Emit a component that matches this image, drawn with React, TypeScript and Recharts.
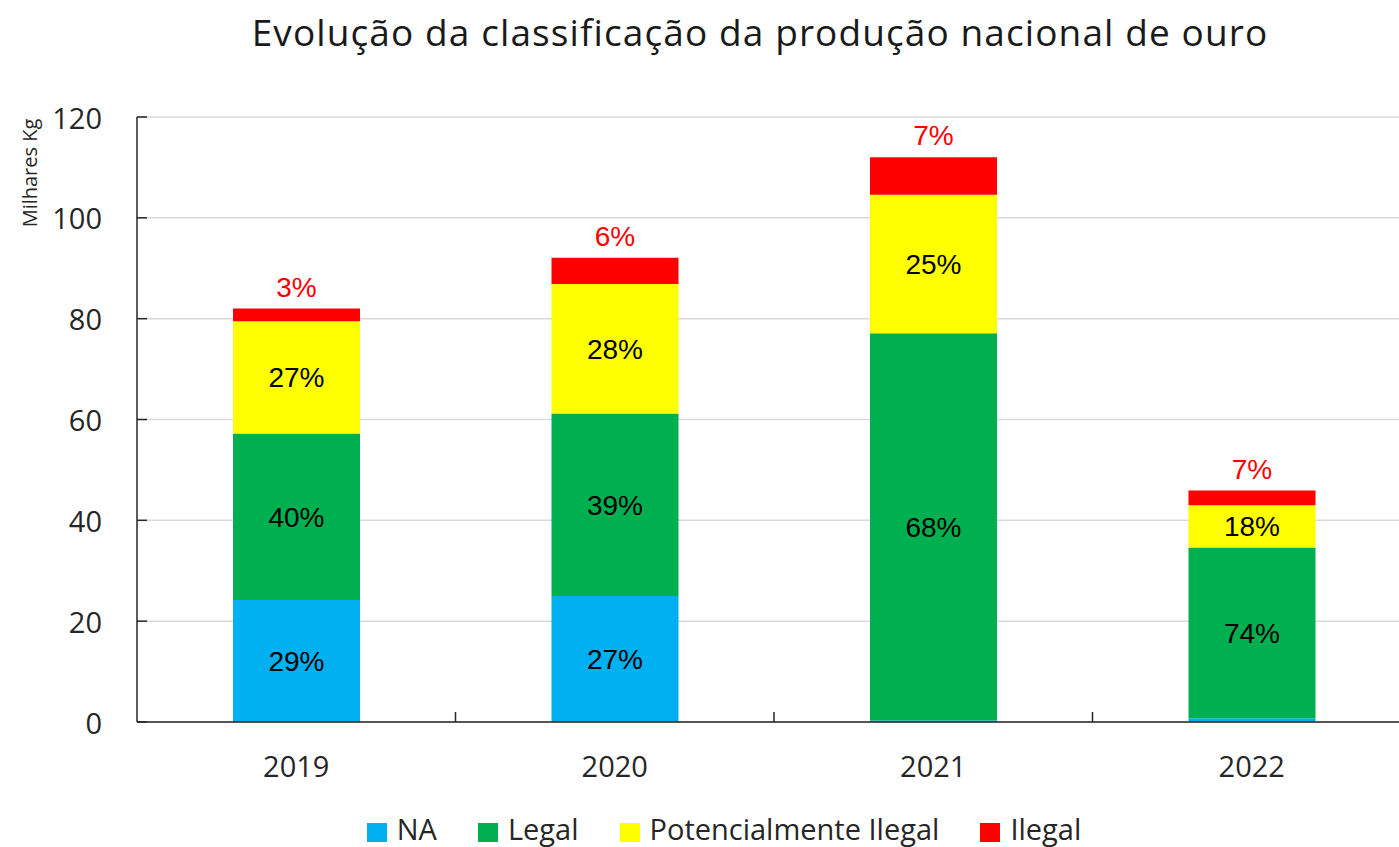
import { BarChart, Bar, XAxis, YAxis, CartesianGrid, LabelList } from 'recharts'

const years = ['2019', '2020', '2021', '2022']
const seriesNames = ['NA', 'Legal', 'Potencialmente Ilegal', 'Ilegal']
const seriesColors = ['#00B0F0', '#00B050', '#FFFF00', '#FF0000']

// milhares de kg
const naValues = [24.2, 25.0, 0.3, 0.75]
const legalValues = [33.0, 36.2, 76.8, 33.85]
const potValues = [22.3, 25.7, 27.5, 8.4]
const ilegalValues = [2.5, 5.2, 7.4, 2.9]

const naLabels = ['29%', '27%', '', '']
const legalLabels = ['40%', '39%', '68%', '74%']
const potLabels = ['27%', '28%', '25%', '18%']
const ilegalLabels = ['3%', '6%', '7%', '7%']

const yTicks = [0, 20, 40, 60, 80, 100, 120]

const data = years.map((year, i) => ({
  year,
  na: naValues[i],
  legal: legalValues[i],
  pot: potValues[i],
  ilegal: ilegalValues[i],
  naLabel: naLabels[i],
  legalLabel: legalLabels[i],
  potLabel: potLabels[i],
  ilegalLabel: ilegalLabels[i],
}))

const CHART_W = 1420
const CHART_H = 847
const MARGIN = { top: 117, right: 9, bottom: 65, left: 0 }
const Y_AXIS_W = 137
const X_AXIS_H = 60
const BAND = (CHART_W - MARGIN.left - Y_AXIS_W - MARGIN.right) / years.length

const tickFont = "'Open Sans', sans-serif"
const labelFont = "'Liberation Sans', Arial, sans-serif"

function YTick({ x, y, payload }: any) {
  return (
    <g>
      <line x1={x} x2={x + 10} y1={y} y2={y} stroke="#262626" strokeWidth={1.5} />
      <text
        x={x - 35}
        y={y}
        textAnchor="end"
        dominantBaseline="central"
        fontFamily={tickFont}
        fontSize={29}
        fill="#262626"
      >
        {payload.value}
      </text>
    </g>
  )
}

function XTick({ x, y, payload, index }: any) {
  return (
    <g>
      {index > 0 && (
        <line x1={x - BAND / 2} x2={x - BAND / 2} y1={y} y2={y - 10} stroke="#262626" strokeWidth={1.5} />
      )}
      <text
        x={x}
        y={y + 43}
        textAnchor="middle"
        dominantBaseline="central"
        fontFamily={tickFont}
        fontSize={29}
        fill="#262626"
      >
        {payload.value}
      </text>
    </g>
  )
}

const keys = ['na', 'legal', 'pot', 'ilegal']

export default function App() {
  return (
    <div
      style={{
        position: 'absolute',
        left: 0,
        top: 0,
        width: 1399,
        height: 847,
        overflow: 'hidden',
        background: '#fff',
      }}
    >
      <div
        style={{
          position: 'absolute',
          left: 160,
          width: 1200,
          top: 10,
          textAlign: 'center',
          fontFamily: tickFont,
          fontSize: 37,
          letterSpacing: 1.1,
          lineHeight: '44px',
          color: '#1a1a1a',
          whiteSpace: 'nowrap',
        }}
      >
        Evolução da classificação da produção nacional de ouro
      </div>
      <div
        style={{
          position: 'absolute',
          left: 29,
          top: 173,
          transform: 'translate(-50%, -50%) rotate(-90deg)',
          fontFamily: tickFont,
          fontSize: 20,
          color: '#262626',
          whiteSpace: 'nowrap',
        }}
      >
        Milhares Kg
      </div>
      <div style={{ position: 'absolute', left: 0, top: 0 }}>
        <BarChart width={CHART_W} height={CHART_H} data={data} margin={MARGIN}>
          <CartesianGrid vertical={false} stroke="#d9d9d9" strokeWidth={1.5} />
          <XAxis
            dataKey="year"
            height={X_AXIS_H}
            tickSize={0}
            tickMargin={0}
            tickLine={false}
            tick={<XTick />}
            axisLine={{ stroke: '#262626', strokeWidth: 1.5 }}
          />
          <YAxis
            width={Y_AXIS_W}
            domain={[0, 120]}
            ticks={yTicks}
            tickSize={0}
            tickMargin={0}
            tickLine={false}
            tick={<YTick />}
            axisLine={{ stroke: '#262626', strokeWidth: 1.5 }}
          />
          <Bar dataKey="na" stackId="a" fill={seriesColors[0]} barSize={127} isAnimationActive={false}>
            <LabelList dataKey="naLabel" position="center" fill="#000" fontSize={28} fontFamily={labelFont} />
          </Bar>
          <Bar dataKey="legal" stackId="a" fill={seriesColors[1]} barSize={127} isAnimationActive={false}>
            <LabelList dataKey="legalLabel" position="center" fill="#000" fontSize={28} fontFamily={labelFont} />
          </Bar>
          <Bar dataKey="pot" stackId="a" fill={seriesColors[2]} barSize={127} isAnimationActive={false}>
            <LabelList dataKey="potLabel" position="center" fill="#000" fontSize={28} fontFamily={labelFont} />
          </Bar>
          <Bar dataKey="ilegal" stackId="a" fill={seriesColors[3]} barSize={127} isAnimationActive={false}>
            <LabelList
              dataKey="ilegalLabel"
              position="top"
              offset={12}
              fill="#FF0000"
              fontSize={28}
              fontFamily={labelFont}
            />
          </Bar>
        </BarChart>
      </div>
      {/* legenda */}
      <div
        style={{
          position: 'absolute',
          left: 0,
          width: 1448,
          top: 812,
          height: 34,
          display: 'flex',
          justifyContent: 'center',
          alignItems: 'center',
          gap: 41,
          fontFamily: tickFont,
          fontSize: 29,
          color: '#262626',
        }}
      >
        {keys.map((k, i) => (
          <div key={k} style={{ display: 'flex', alignItems: 'center', gap: 10, height: 34 }}>
            <span
              style={{
                width: 20,
                height: 19,
                background: seriesColors[i],
                display: 'inline-block',
                position: 'relative',
                top: 3,
              }}
            />
            <span style={{ lineHeight: '34px' }}>{seriesNames[i]}</span>
          </div>
        ))}
      </div>
    </div>
  )
}
